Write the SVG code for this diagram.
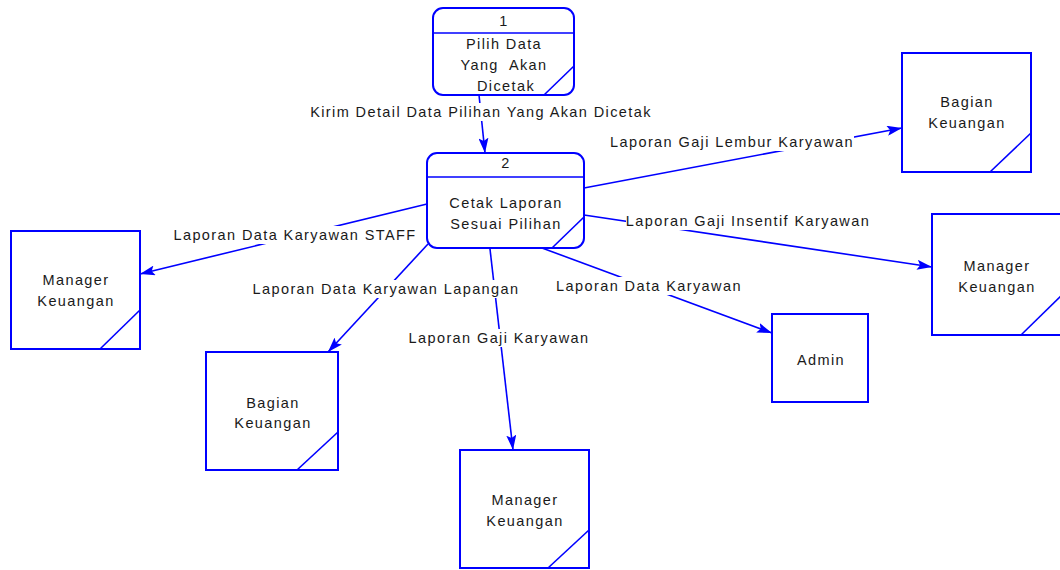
<svg xmlns="http://www.w3.org/2000/svg" width="1060" height="570" viewBox="0 0 1060 570">
  <style>
    .box { fill: #ffffff; stroke: #0000ff; stroke-width: 2; }
    .edge { fill: none; stroke: #0000ff; stroke-width: 1.6; }
    .flow { fill: none; stroke: #0000ff; stroke-width: 1.6; marker-end: url(#arrow); }
    .txt { font-family: "Liberation Sans", Arial, sans-serif; font-size: 14.5px; fill: #1a1a1a; text-anchor: middle; letter-spacing: 1.4px; }
    .lblbg { fill: #ffffff; stroke: none; }
  </style>
  <defs>
    <marker id="arrow" markerUnits="userSpaceOnUse" markerWidth="16" markerHeight="10" refX="15" refY="5" orient="auto">
      <path d="M0,0 L15,5 L0,10 L3,5 z" fill="#0000ff"/>
    </marker>
  </defs>
  <rect width="1060" height="570" fill="#ffffff"/>

  <!-- data flows -->
  <g id="connectors">
    <line class="flow" x1="479" y1="95" x2="485" y2="153"/>
    <line class="flow" x1="584" y1="188" x2="902" y2="128"/>
    <line class="flow" x1="584" y1="215" x2="932" y2="267"/>
    <line class="flow" x1="427" y1="204" x2="140" y2="274"/>
    <line class="flow" x1="428" y1="244" x2="328" y2="352"/>
    <line class="flow" x1="490" y1="249" x2="513" y2="450"/>
    <line class="flow" x1="542" y1="248" x2="772" y2="333"/>

    <g id="labels">
      <rect class="lblbg" x="305" y="103" width="350" height="18"/>
      <text class="txt" x="481" y="117">Kirim Detail Data Pilihan Yang Akan Dicetak</text>
      <rect class="lblbg" x="609" y="133" width="245" height="18"/>
      <text class="txt" x="732" y="147">Laporan Gaji Lembur Karyawan</text>
      <rect class="lblbg" x="626" y="212" width="243" height="18"/>
      <text class="txt" x="748" y="226">Laporan Gaji Insentif Karyawan</text>
      <rect class="lblbg" x="170" y="226" width="250" height="18"/>
      <text class="txt" x="295" y="240">Laporan Data Karyawan STAFF</text>
      <rect class="lblbg" x="251" y="280" width="268" height="18"/>
      <text class="txt" x="386" y="294">Laporan Data Karyawan Lapangan</text>
      <rect class="lblbg" x="408" y="329" width="182" height="18"/>
      <text class="txt" x="499" y="343">Laporan Gaji Karyawan</text>
      <rect class="lblbg" x="554" y="277" width="188" height="18"/>
      <text class="txt" x="649" y="291">Laporan Data Karyawan</text>
    </g>
  </g>

  <!-- process 1 -->
  <g id="process1">
    <rect class="box" x="433" y="8" width="141" height="87" rx="10"/>
    <line class="edge" x1="433" y1="33" x2="574" y2="33"/>
    <line class="edge" x1="544" y1="95" x2="574" y2="66"/>
    <text class="txt" x="504" y="26">1</text>
    <text class="txt" x="504" y="49">Pilih Data</text>
    <text class="txt" x="504" y="70" xml:space="preserve">Yang  Akan</text>
    <text class="txt" x="506" y="91">Dicetak</text>
  </g>

  <!-- process 2 -->
  <g id="process2">
    <rect class="box" x="427" y="153" width="157" height="95" rx="10"/>
    <line class="edge" x1="427" y1="177" x2="584" y2="177"/>
    <line class="edge" x1="552" y1="248" x2="584" y2="217"/>
    <text class="txt" x="506" y="168">2</text>
    <text class="txt" x="506" y="208">Cetak Laporan</text>
    <text class="txt" x="506" y="229">Sesuai Pilihan</text>
  </g>

  <!-- external entities -->
  <g id="bagian-keuangan-1">
    <rect class="box" x="902" y="53" width="129" height="119"/>
    <line class="edge" x1="990" y1="172" x2="1031" y2="133"/>
    <text class="txt" x="967" y="107">Bagian</text>
    <text class="txt" x="967" y="128">Keuangan</text>
  </g>

  <g id="manager-keuangan-1">
    <rect class="box" x="932" y="214" width="129" height="121"/>
    <line class="edge" x1="1021" y1="335" x2="1061" y2="296"/>
    <text class="txt" x="997" y="271">Manager</text>
    <text class="txt" x="997" y="292">Keuangan</text>
  </g>

  <g id="manager-keuangan-2">
    <rect class="box" x="11" y="231" width="129" height="118"/>
    <line class="edge" x1="100" y1="349" x2="140" y2="310"/>
    <text class="txt" x="76" y="285">Manager</text>
    <text class="txt" x="76" y="306">Keuangan</text>
  </g>

  <g id="admin">
    <rect class="box" x="772" y="314" width="96" height="88"/>
    <text class="txt" x="821" y="365">Admin</text>
  </g>

  <g id="bagian-keuangan-2">
    <rect class="box" x="206" y="352" width="132" height="118"/>
    <line class="edge" x1="297" y1="470" x2="338" y2="432"/>
    <text class="txt" x="273" y="408">Bagian</text>
    <text class="txt" x="273" y="428">Keuangan</text>
  </g>

  <g id="manager-keuangan-3">
    <rect class="box" x="460" y="450" width="129" height="118"/>
    <line class="edge" x1="548" y1="568" x2="589" y2="530"/>
    <text class="txt" x="525" y="505">Manager</text>
    <text class="txt" x="525" y="526">Keuangan</text>
  </g>
</svg>
